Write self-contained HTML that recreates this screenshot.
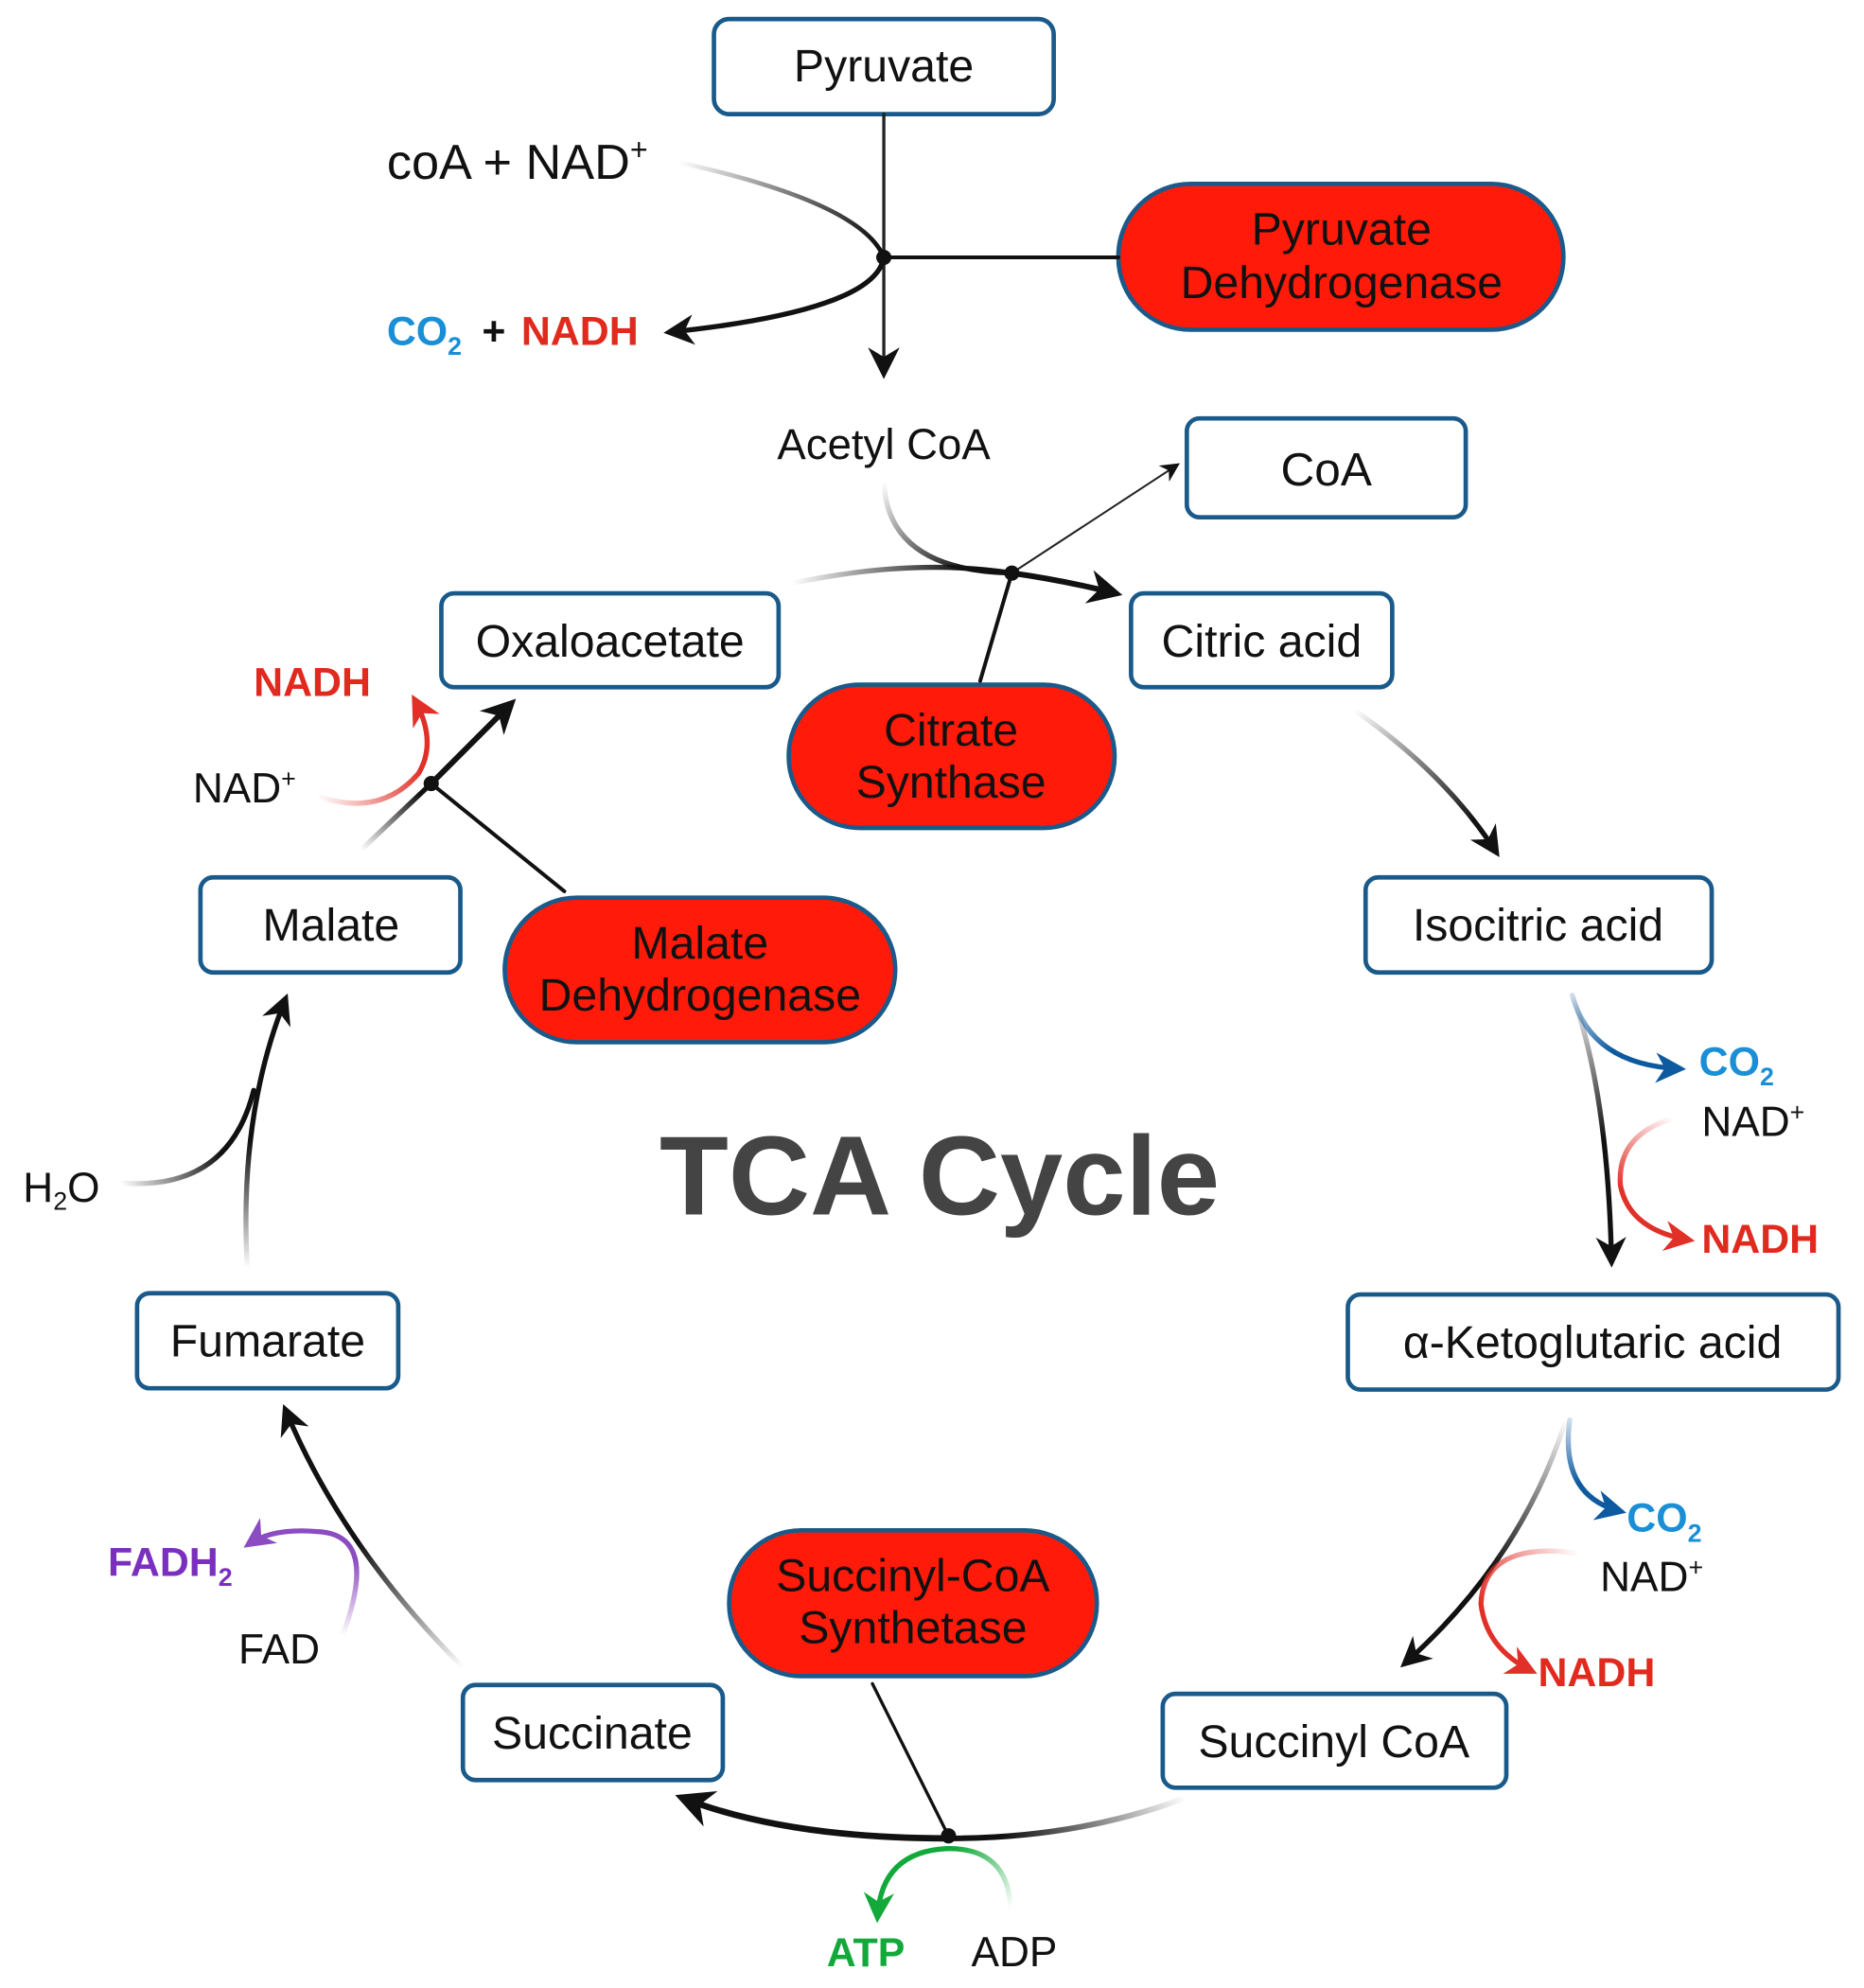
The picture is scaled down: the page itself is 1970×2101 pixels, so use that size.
<!DOCTYPE html>
<html><head><meta charset="utf-8"><style>
html,body{margin:0;padding:0;background:#fff}
svg{display:block}
text{font-family:"Liberation Sans",sans-serif}
</style></head><body>
<svg width="1970" height="2101" viewBox="0 0 1470 1568" xmlns="http://www.w3.org/2000/svg">
<defs>
<marker id="ab" viewBox="0 0 10 10" refX="8" refY="5" markerWidth="6" markerHeight="6" orient="auto" markerUnits="strokeWidth"><path d="M0,0 L10,5 L0,10 L3,5z" fill="#111"/></marker>
<marker id="abs" viewBox="0 0 10 10" refX="8" refY="5" markerWidth="10" markerHeight="10" orient="auto" markerUnits="strokeWidth"><path d="M0,0 L10,5 L0,10 L3,5z" fill="#111"/></marker>
<marker id="abl" viewBox="0 0 10 10" refX="8" refY="5" markerWidth="6" markerHeight="6" orient="auto" markerUnits="strokeWidth"><path d="M0,0 L10,5 L0,10 L3,5z" fill="#0d5aa0"/></marker>
<marker id="ar" viewBox="0 0 10 10" refX="8" refY="5" markerWidth="6" markerHeight="6" orient="auto" markerUnits="strokeWidth"><path d="M0,0 L10,5 L0,10 L3,5z" fill="#e03028"/></marker>
<marker id="ag" viewBox="0 0 10 10" refX="8" refY="5" markerWidth="6" markerHeight="6" orient="auto" markerUnits="strokeWidth"><path d="M0,0 L10,5 L0,10 L3,5z" fill="#12a83a"/></marker>
<marker id="ap" viewBox="0 0 10 10" refX="8" refY="5" markerWidth="6" markerHeight="6" orient="auto" markerUnits="strokeWidth"><path d="M0,0 L10,5 L0,10 L3,5z" fill="#8a4cc0"/></marker>
<linearGradient id="g1" gradientUnits="userSpaceOnUse" x1="535" y1="128" x2="690" y2="195"><stop offset="0" stop-color="#000" stop-opacity="0"/><stop offset="1" stop-color="#111"/></linearGradient>
<linearGradient id="g2" gradientUnits="userSpaceOnUse" x1="697" y1="380" x2="760" y2="450"><stop offset="0" stop-color="#000" stop-opacity="0"/><stop offset="1" stop-color="#111"/></linearGradient>
<linearGradient id="g3" gradientUnits="userSpaceOnUse" x1="625" y1="460" x2="760" y2="452"><stop offset="0" stop-color="#000" stop-opacity="0"/><stop offset="1" stop-color="#111"/></linearGradient>
<linearGradient id="g4" gradientUnits="userSpaceOnUse" x1="1068" y1="560" x2="1160" y2="650"><stop offset="0" stop-color="#000" stop-opacity="0"/><stop offset="1" stop-color="#111"/></linearGradient>
<linearGradient id="g5" gradientUnits="userSpaceOnUse" x1="1240" y1="785" x2="1260" y2="900"><stop offset="0" stop-color="#000" stop-opacity="0"/><stop offset="1" stop-color="#111"/></linearGradient>
<linearGradient id="g6" gradientUnits="userSpaceOnUse" x1="1235" y1="1120" x2="1180" y2="1240"><stop offset="0" stop-color="#000" stop-opacity="0"/><stop offset="1" stop-color="#111"/></linearGradient>
<linearGradient id="g7" gradientUnits="userSpaceOnUse" x1="935" y1="1418" x2="790" y2="1448"><stop offset="0" stop-color="#000" stop-opacity="0"/><stop offset="1" stop-color="#111"/></linearGradient>
<linearGradient id="g8" gradientUnits="userSpaceOnUse" x1="365" y1="1315" x2="290" y2="1210"><stop offset="0" stop-color="#000" stop-opacity="0"/><stop offset="1" stop-color="#111"/></linearGradient>
<linearGradient id="g9" gradientUnits="userSpaceOnUse" x1="195" y1="1000" x2="200" y2="900"><stop offset="0" stop-color="#000" stop-opacity="0"/><stop offset="1" stop-color="#111"/></linearGradient>
<linearGradient id="g10" gradientUnits="userSpaceOnUse" x1="95" y1="933" x2="170" y2="900"><stop offset="0" stop-color="#000" stop-opacity="0"/><stop offset="1" stop-color="#111"/></linearGradient>
<linearGradient id="g11" gradientUnits="userSpaceOnUse" x1="285" y1="670" x2="330" y2="625"><stop offset="0" stop-color="#000" stop-opacity="0"/><stop offset="1" stop-color="#111"/></linearGradient>
<linearGradient id="gb1" gradientUnits="userSpaceOnUse" x1="1240" y1="785" x2="1270" y2="830"><stop offset="0" stop-color="#0d5aa0" stop-opacity="0.2"/><stop offset="1" stop-color="#0d5aa0"/></linearGradient>
<linearGradient id="gb2" gradientUnits="userSpaceOnUse" x1="1238" y1="1120" x2="1245" y2="1170"><stop offset="0" stop-color="#0d5aa0" stop-opacity="0.2"/><stop offset="1" stop-color="#0d5aa0"/></linearGradient>
<linearGradient id="gr1" gradientUnits="userSpaceOnUse" x1="1320" y1="882" x2="1280" y2="940"><stop offset="0" stop-color="#e03028" stop-opacity="0"/><stop offset="1" stop-color="#e03028"/></linearGradient>
<linearGradient id="gr2" gradientUnits="userSpaceOnUse" x1="1245" y1="1225" x2="1170" y2="1270"><stop offset="0" stop-color="#e03028" stop-opacity="0"/><stop offset="1" stop-color="#e03028"/></linearGradient>
<linearGradient id="gr3" gradientUnits="userSpaceOnUse" x1="250" y1="628" x2="330" y2="600"><stop offset="0" stop-color="#e03028" stop-opacity="0"/><stop offset="1" stop-color="#e03028"/></linearGradient>
<linearGradient id="gg" gradientUnits="userSpaceOnUse" x1="797" y1="1505" x2="750" y2="1462"><stop offset="0" stop-color="#12a83a" stop-opacity="0"/><stop offset="1" stop-color="#12a83a"/></linearGradient>
<linearGradient id="gp" gradientUnits="userSpaceOnUse" x1="270" y1="1290" x2="280" y2="1230"><stop offset="0" stop-color="#8a4cc0" stop-opacity="0"/><stop offset="1" stop-color="#8a4cc0"/></linearGradient>
</defs>

<g fill="#fff" stroke="#1a5a8a" stroke-width="3.5">
<rect x="563" y="15" width="268" height="75" rx="12"/>
<rect x="936" y="330" width="220" height="78" rx="10"/>
<rect x="348" y="468" width="266" height="74" rx="10"/>
<rect x="892" y="468" width="206" height="74" rx="10"/>
<rect x="1077" y="692" width="273" height="75" rx="10"/>
<rect x="158" y="692" width="205" height="75" rx="10"/>
<rect x="108" y="1020" width="206" height="75" rx="10"/>
<rect x="1063" y="1021" width="387" height="75" rx="10"/>
<rect x="917" y="1336" width="271" height="74" rx="10"/>
<rect x="365" y="1329" width="205" height="75" rx="10"/>
</g>
<g fill="#ff1a0a" stroke="#1a5a8a" stroke-width="3.5">
<rect x="882" y="145" width="351" height="115" rx="57"/>
<rect x="622" y="540" width="257" height="113" rx="56"/>
<rect x="398" y="708" width="308" height="114" rx="57"/>
<rect x="575" y="1207" width="290" height="115" rx="57"/>
</g>

<g fill="none" stroke-linecap="round">
<line x1="697" y1="90" x2="697" y2="294" stroke="#222" stroke-width="2.5" marker-end="url(#abs)"/>
<line x1="697" y1="203" x2="882" y2="203" stroke="#111" stroke-width="3"/>
<path d="M535,128 Q680,160 697,203" stroke="url(#g1)" stroke-width="3.5"/>
<path d="M697,203 Q690,245 528,262" stroke="#111" stroke-width="4" marker-end="url(#ab)"/>
<path d="M697,380 Q700,450 798,452" stroke="url(#g2)" stroke-width="4"/>
<path d="M625,460 Q720,440 798,452" stroke="url(#g3)" stroke-width="4"/>
<path d="M798,452 Q840,458 880,468" stroke="#111" stroke-width="4.5" marker-end="url(#ab)"/>
<line x1="798" y1="452" x2="928" y2="367" stroke="#222" stroke-width="1.5" marker-end="url(#abs)"/>
<line x1="798" y1="452" x2="773" y2="537" stroke="#111" stroke-width="3"/>
<path d="M1068,560 Q1140,610 1180,672" stroke="url(#g4)" stroke-width="4" marker-end="url(#ab)"/>
<path d="M1240,785 Q1268,860 1271,995" stroke="url(#g5)" stroke-width="4" marker-end="url(#ab)"/>
<path d="M1240,785 Q1255,840 1325,843" stroke="url(#gb1)" stroke-width="4" marker-end="url(#abl)"/>
<path d="M1320,882 Q1275,895 1278,935 Q1285,970 1332,978" stroke="url(#gr1)" stroke-width="4" marker-end="url(#ar)"/>
<path d="M1235,1120 Q1200,1230 1108,1312" stroke="url(#g6)" stroke-width="4" marker-end="url(#ab)"/>
<path d="M1238,1120 Q1230,1180 1278,1192" stroke="url(#gb2)" stroke-width="4" marker-end="url(#abl)"/>
<path d="M1245,1225 Q1170,1215 1168,1265 Q1172,1300 1208,1318" stroke="url(#gr2)" stroke-width="4" marker-end="url(#ar)"/>
<path d="M935,1418 Q850,1450 748,1450" stroke="url(#g7)" stroke-width="4.5"/>
<path d="M748,1450 Q620,1450 538,1418" stroke="#111" stroke-width="5" marker-end="url(#ab)"/>
<line x1="688" y1="1328" x2="748" y2="1448" stroke="#111" stroke-width="2.5"/>
<path d="M797,1505 Q795,1458 748,1458 Q695,1460 692,1512" stroke="url(#gg)" stroke-width="4" marker-end="url(#ag)"/>
<path d="M365,1315 Q270,1220 225,1112" stroke="url(#g8)" stroke-width="4" marker-end="url(#ab)"/>
<path d="M270,1290 Q300,1210 250,1208 Q215,1205 196,1218" stroke="url(#gp)" stroke-width="4" marker-end="url(#ap)"/>
<path d="M195,1000 Q188,880 225,788" stroke="url(#g9)" stroke-width="4" marker-end="url(#ab)"/>
<path d="M95,933 Q180,940 200,860" stroke="url(#g10)" stroke-width="4"/>
<path d="M285,670 L340,618" stroke="url(#g11)" stroke-width="4"/>
<path d="M340,618 L403,555" stroke="#111" stroke-width="4.5" marker-end="url(#ab)"/>
<line x1="340" y1="618" x2="445" y2="703" stroke="#111" stroke-width="3"/>
<path d="M250,628 Q300,645 330,610 Q345,585 327,552" stroke="url(#gr3)" stroke-width="4" marker-end="url(#ar)"/>
</g>
<g fill="#111">
<circle cx="697" cy="203" r="6"/>
<circle cx="798" cy="452" r="6"/>
<circle cx="748" cy="1448" r="6"/>
<circle cx="340" cy="618" r="6"/>
</g>

<g fill="#111" font-size="36" text-anchor="middle">
<text x="697" y="64">Pyruvate</text>
<text x="1046" y="383" font-size="37">CoA</text>
<text x="481" y="518">Oxaloacetate</text>
<text x="995" y="518">Citric acid</text>
<text x="1213" y="742">Isocitric acid</text>
<text x="261" y="742">Malate</text>
<text x="211" y="1070">Fumarate</text>
<text x="1256" y="1071">α-Ketoglutaric acid</text>
<text x="1052" y="1386">Succinyl CoA</text>
<text x="467" y="1379">Succinate</text>
<text x="1058" y="193">Pyruvate</text>
<text x="1058" y="235">Dehydrogenase</text>
<text x="750" y="588">Citrate</text>
<text x="750" y="629">Synthase</text>
<text x="552" y="756">Malate</text>
<text x="552" y="797">Dehydrogenase</text>
<text x="720" y="1255">Succinyl-CoA</text>
<text x="720" y="1296">Synthetase</text>
<text x="697" y="362" font-size="34">Acetyl CoA</text>
</g>
<g font-size="39" fill="#111">
<text x="305" y="141">coA + NAD<tspan font-size="24" dy="-15">+</tspan></text>
</g>
<g font-size="32" font-weight="bold">
<text x="305" y="272" fill="#1a8fd6">CO<tspan font-size="20" dy="8">2</tspan></text>
<text x="380" y="272" fill="#111">+</text>
<text x="411" y="272" fill="#e02a1e">NADH</text>
<text x="200" y="549" fill="#e02a1e">NADH</text>
<text x="1340" y="848" fill="#1a8fd6">CO<tspan font-size="20" dy="8">2</tspan></text>
<text x="1342" y="988" fill="#e02a1e">NADH</text>
<text x="1283" y="1208" fill="#1a8fd6">CO<tspan font-size="20" dy="8">2</tspan></text>
<text x="1213" y="1330" fill="#e02a1e">NADH</text>
<text x="85" y="1243" fill="#7b2fbe">FADH<tspan font-size="20" dy="8">2</tspan></text>
<text x="652" y="1551" fill="#12a83a">ATP</text>
</g>
<g font-size="33" fill="#111">
<text x="152" y="633">NAD<tspan font-size="20" dy="-12">+</tspan></text>
<text x="1342" y="896">NAD<tspan font-size="20" dy="-12">+</tspan></text>
<text x="1262" y="1255">NAD<tspan font-size="20" dy="-12">+</tspan></text>
<text x="18" y="948">H<tspan font-size="20" dy="6">2</tspan><tspan dy="-6">O</tspan></text>
<text x="188" y="1312">FAD</text>
<text x="766" y="1551">ADP</text>
</g>
<text x="741" y="958" text-anchor="middle" font-size="89" font-weight="bold" fill="#444">TCA Cycle</text>
</svg>
</body></html>
